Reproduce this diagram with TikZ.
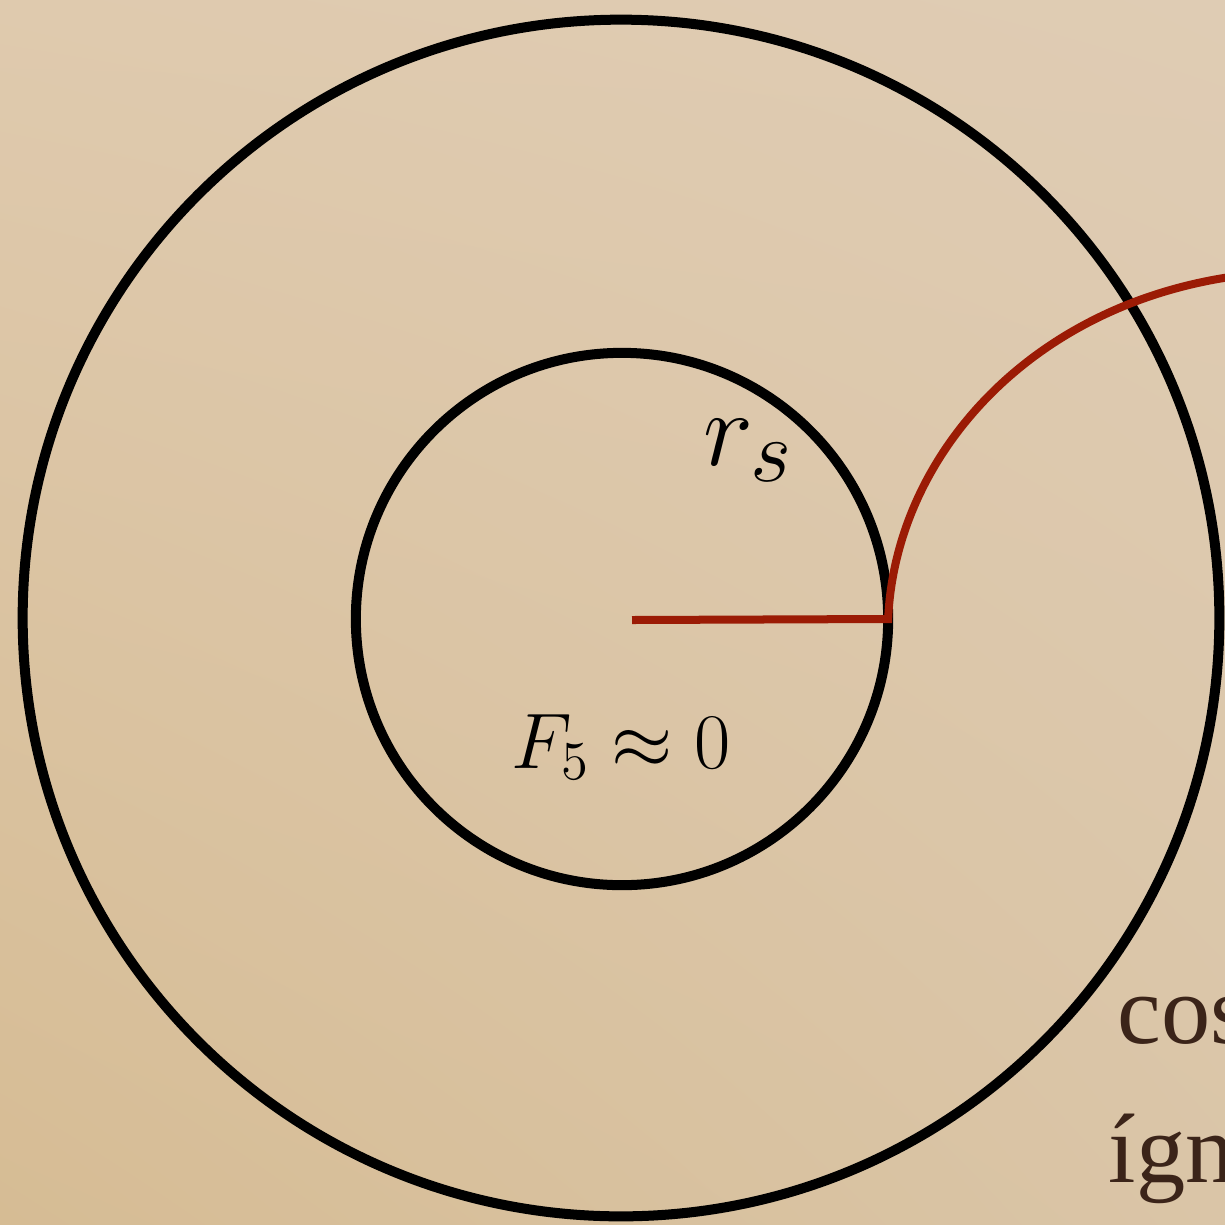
\documentclass[tikz,border=0pt]{standalone}
\usepackage{fontspec}
\usetikzlibrary{shadings}
\newfontfamily\notafont{Liberation Serif}

\definecolor{papel_a}{HTML}{DFCAAE}
\definecolor{papel_b}{HTML}{D6BC94}
\definecolor{papel_c}{HTML}{DFCCB4}
\definecolor{papel_d}{HTML}{DAC5A7}
\definecolor{customred}{HTML}{9B1B05}
\definecolor{tinta}{HTML}{3B2419}

\begin{document}
\begin{tikzpicture}[x=0.01cm, y=-0.01cm]
  \tikzset{
    ring_node/.style={circle, draw=black, line width=0.1cm, inner sep=0pt, outer sep=0pt},
    red_line/.style={draw=customred, line width=0.08cm, line join=miter},
    note_text/.style={text=tinta, inner sep=0pt, font=\notafont\fontsize{28}{33}\selectfont}
  }

  % Fondo y recorte
  \useasboundingbox (0,0) rectangle (1225,1224);
  \clip (0,0) rectangle (1225,1224);
  \shade[upper left=papel_a, lower left=papel_b, upper right=papel_c, lower right=papel_d]
    (0,0) rectangle (1225,1224);

  % Circunferencias
  \node[ring_node, minimum size=11.96cm] (outer) at (621,618) {};
  \node[ring_node, minimum size=5.32cm] (inner) at (622,619) {};
  \coordinate (centro) at (632,620);
  \coordinate (salida) at (1230,277);

  % Camino rojo
  \draw[red_line] (centro) -- (inner.east)
    .. controls (895,460) and (1025,308) .. (salida);

  % Etiquetas
  \node[anchor=base west, inner sep=0pt, scale=1.22, font=\fontsize{24.88}{30}\selectfont] (rs) at (703,465) {$r_s$};
  \node[anchor=base, inner sep=0pt, scale=1.08, font=\fontsize{20.74}{25}\selectfont] (f5) at (621,768) {$F_5\approx 0$};

  % Texto cortado a la derecha
  \node[note_text, anchor=base west] (cos) at (1117,1043) {cos};
  \node[note_text, anchor=base west] (ign) at (1108,1182) {ígn};
\end{tikzpicture}
\end{document}
